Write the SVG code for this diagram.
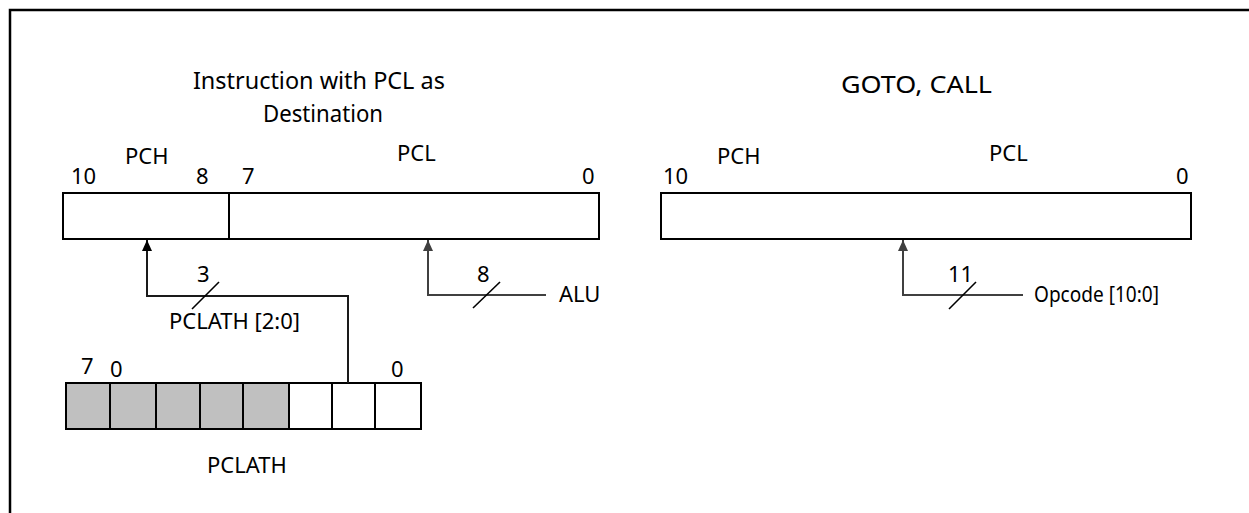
<svg xmlns="http://www.w3.org/2000/svg" width="1249" height="513" viewBox="0 0 1249 513">
  <style>
    text { font-family: "Noto Sans", "Open Sans", sans-serif; fill: #000; }
    .title { font-size: 24px; }
    .lbl { font-size: 22px; }
    .reg { fill: #fff; stroke: #000; stroke-width: 2; }
    .cell { stroke: #000; stroke-width: 2; }
    .hi { fill: #c0c0c0; }
    .lo { fill: #fff; }
    .wire { fill: none; stroke: #1a1a1a; stroke-width: 2; }
    .wire2 { fill: none; stroke: #404040; stroke-width: 2; }
    .tick { stroke: #000; stroke-width: 1.6; }
  </style>
  <defs>
    <!-- arrowheads drawn along +x; oriented by the path direction -->
    <marker id="tipBlack" viewBox="0 0 11 10" refX="11" refY="5" markerWidth="11" markerHeight="10" markerUnits="userSpaceOnUse" orient="auto">
      <path d="M0,0 L11,5 L0,10 Z" fill="#000"/>
    </marker>
    <marker id="tipGrey" viewBox="0 0 11 10" refX="11" refY="5" markerWidth="11" markerHeight="10" markerUnits="userSpaceOnUse" orient="auto">
      <path d="M0,0 L11,5 L0,10 Z" fill="#404040"/>
    </marker>
  </defs>

  <rect width="1249" height="513" fill="#fff"/>
  <!-- outer frame (top and left edges) -->
  <path d="M10,513 V10 H1249" fill="none" stroke="#000" stroke-width="2.5"/>

  <!-- left panel: instruction with PCL as destination -->
  <g id="title-pcl-dest">
    <text class="title" text-anchor="middle">
      <tspan x="322" y="89" textLength="252" lengthAdjust="spacingAndGlyphs">Instruction with PCL as</tspan>
      <tspan x="323" y="122" textLength="120" lengthAdjust="spacingAndGlyphs">Destination</tspan>
    </text>
  </g>

  <g id="pc-left">
    <rect class="reg" x="63" y="193" width="536" height="46"/>
    <line x1="229" y1="193" x2="229" y2="239" stroke="#000" stroke-width="2"/>
    <text class="lbl" x="125" y="164">PCH</text>
    <text class="lbl" x="397" y="161">PCL</text>
    <text class="lbl" x="71" y="184">10</text>
    <text class="lbl" x="196" y="184">8</text>
    <text class="lbl" x="242" y="184">7</text>
    <text class="lbl" x="582" y="184">0</text>
  </g>

  <g id="pclath">
    <rect class="cell hi" x="66" y="383" width="44" height="46"/>
    <rect class="cell hi" x="110" y="383" width="46" height="46"/>
    <rect class="cell hi" x="156" y="383" width="44" height="46"/>
    <rect class="cell hi" x="200" y="383" width="43" height="46"/>
    <rect class="cell hi" x="243" y="383" width="46" height="46"/>
    <rect class="cell lo" x="289" y="383" width="43" height="46"/>
    <rect class="cell lo" x="332" y="383" width="43" height="46"/>
    <rect class="cell lo" x="375" y="383" width="46" height="46"/>
    <text class="lbl" x="81" y="374">7</text>
    <text class="lbl" x="110" y="377">0</text>
    <text class="lbl" x="391" y="377">0</text>
    <text class="lbl" x="207" y="473">PCLATH</text>
  </g>

  <g id="alu-label">
    <text class="lbl" x="559" y="302">ALU</text>
  </g>

  <!-- right panel: GOTO, CALL -->
  <g id="title-goto-call">
    <text class="title" x="841" y="93" textLength="151" lengthAdjust="spacingAndGlyphs">GOTO, CALL</text>
  </g>

  <g id="pc-right">
    <rect class="reg" x="661" y="193" width="530" height="46"/>
    <text class="lbl" x="717" y="164">PCH</text>
    <text class="lbl" x="989" y="161">PCL</text>
    <text class="lbl" x="663" y="184">10</text>
    <text class="lbl" x="1176" y="184">0</text>
  </g>

  <g id="opcode-label">
    <text class="lbl" x="1034" y="302" textLength="125" lengthAdjust="spacingAndGlyphs">Opcode [10:0]</text>
  </g>

  <!-- buses with width ticks -->
  <g id="connectors">
    <!-- PCLATH[2:0] into PCH -->
    <path class="wire" d="M348,383 V296 H147 V240" marker-end="url(#tipBlack)"/>
    <line class="tick" x1="192" y1="309" x2="219" y2="282"/>
    <text class="lbl" x="197" y="282">3</text>
    <text class="lbl" x="169" y="329">PCLATH [2:0]</text>

    <!-- ALU into PCL -->
    <path class="wire2" d="M546,295 H428 V240" marker-end="url(#tipGrey)"/>
    <line class="tick" x1="473" y1="308" x2="500" y2="282"/>
    <text class="lbl" x="477" y="282">8</text>

    <!-- opcode into PC -->
    <path class="wire2" d="M1023,295 H903 V240" marker-end="url(#tipGrey)"/>
    <line class="tick" x1="949" y1="309" x2="976" y2="282"/>
    <text class="lbl" x="948" y="282">11</text>
  </g>
</svg>
